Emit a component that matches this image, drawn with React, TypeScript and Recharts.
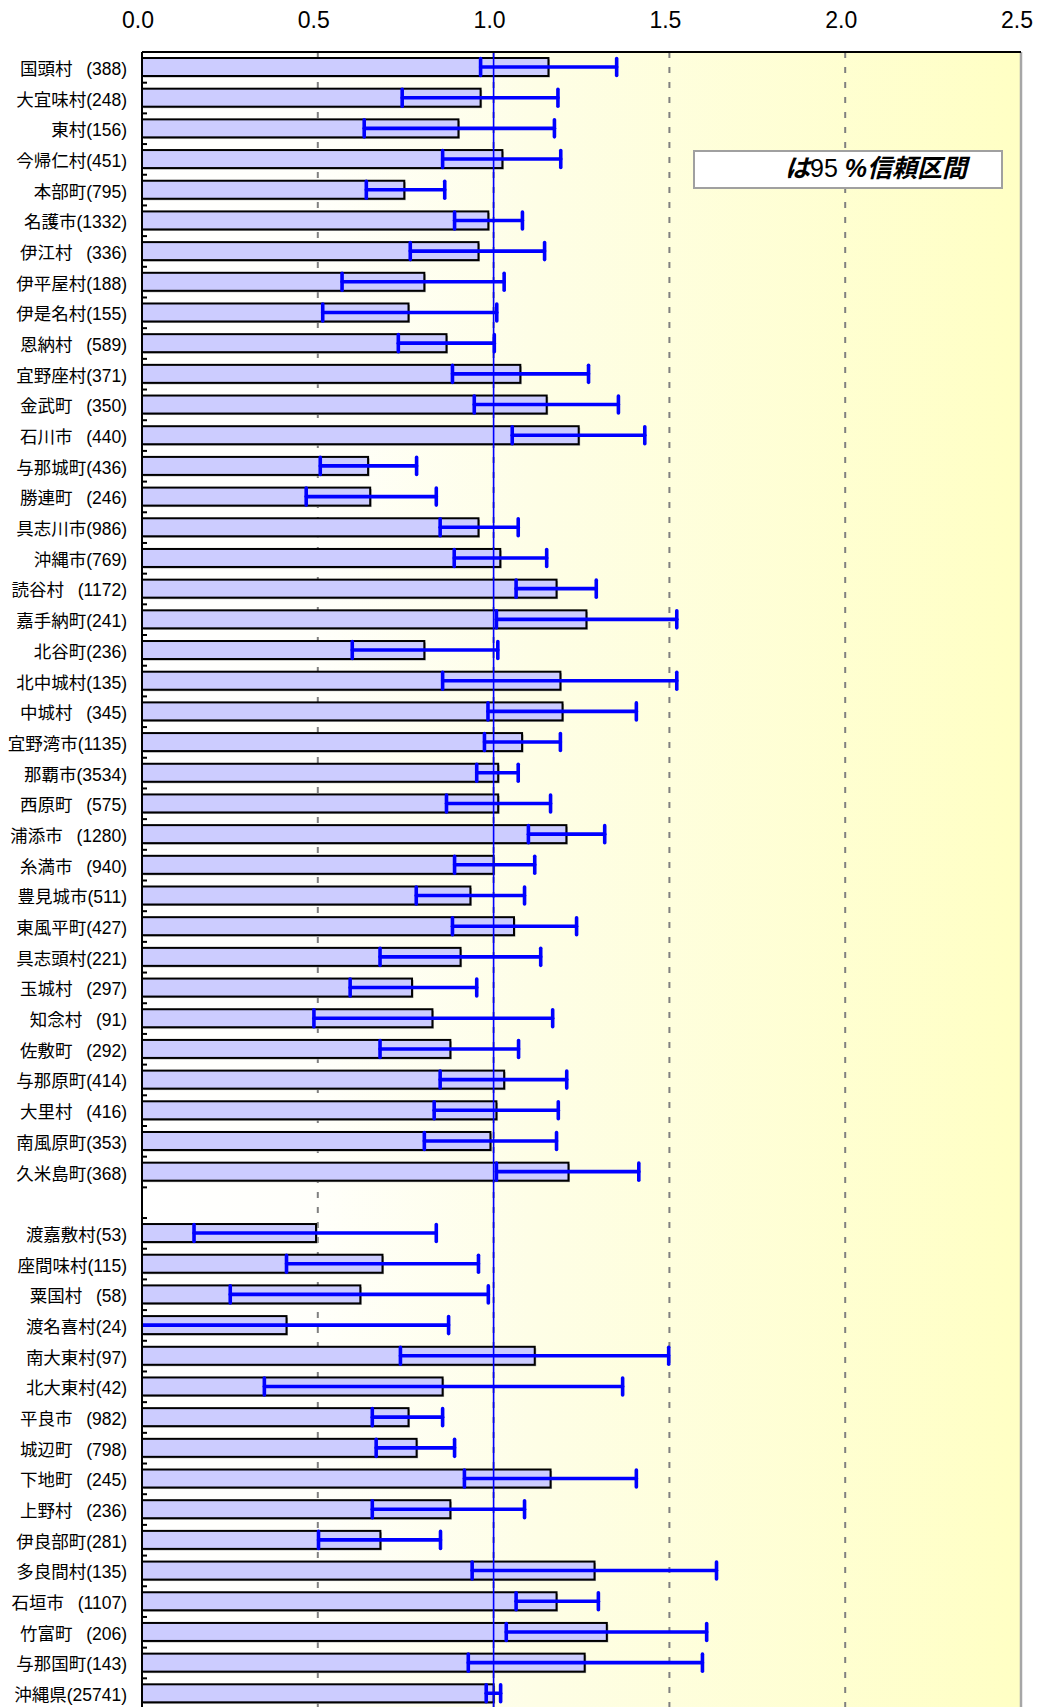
import React from 'react';
import { BarChart, Bar, XAxis, YAxis, CartesianGrid, ErrorBar, ReferenceLine } from 'recharts';

const SP = '\u2002 ';

const labels = [
  `国頭村${SP}(388)`, '大宜味村(248)', '東村(156)', '今帰仁村(451)', '本部町(795)',
  '名護市(1332)', `伊江村${SP}(336)`, '伊平屋村(188)', '伊是名村(155)', `恩納村${SP}(589)`,
  '宜野座村(371)', `金武町${SP}(350)`, `石川市${SP}(440)`, '与那城町(436)', `勝連町${SP}(246)`,
  '具志川市(986)', '沖縄市(769)', `読谷村${SP}(1172)`, '嘉手納町(241)', '北谷町(236)',
  '北中城村(135)', `中城村${SP}(345)`, '宜野湾市(1135)', '那覇市(3534)', `西原町${SP}(575)`,
  `浦添市${SP}(1280)`, `糸満市${SP}(940)`, '豊見城市(511)', '東風平町(427)', '具志頭村(221)',
  `玉城村${SP}(297)`, `知念村${SP}(91)`, `佐敷町${SP}(292)`, '与那原町(414)', `大里村${SP}(416)`,
  '南風原町(353)', '久米島町(368)', '',
  '渡嘉敷村(53)', '座間味村(115)', `粟国村${SP}(58)`, '渡名喜村(24)', '南大東村(97)',
  '北大東村(42)', `平良市${SP}(982)`, `城辺町${SP}(798)`, `下地町${SP}(245)`, `上野村${SP}(236)`,
  '伊良部町(281)', '多良間村(135)', `石垣市${SP}(1107)`, `竹富町${SP}(206)`, '与那国町(143)',
  '沖縄県(25741)',
];

const values: (number | null)[] = [
  1.156, 0.963, 0.900, 1.025, 0.746, 0.985, 0.957, 0.803, 0.758, 0.866,
  1.076, 1.151, 1.242, 0.643, 0.649, 0.957, 1.019, 1.179, 1.264, 0.803,
  1.190, 1.196, 1.081, 1.013, 1.013, 1.207, 1.000, 0.934, 1.058, 0.906,
  0.768, 0.826, 0.877, 1.030, 1.008, 0.991, 1.213, null,
  0.495, 0.684, 0.621, 0.411, 1.117, 0.855, 0.758, 0.781, 1.162, 0.877,
  0.678, 1.287, 1.179, 1.322, 1.259, 1.000,
];

const lows: (number | null)[] = [
  0.963, 0.740, 0.632, 0.855, 0.638, 0.889, 0.763, 0.569, 0.514, 0.729,
  0.883, 0.945, 1.053, 0.507, 0.467, 0.848, 0.888, 1.064, 1.008, 0.598,
  0.855, 0.984, 0.974, 0.952, 0.866, 1.099, 0.889, 0.780, 0.883, 0.677,
  0.592, 0.489, 0.677, 0.848, 0.831, 0.803, 1.008, null,
  0.148, 0.411, 0.251, -0.05, 0.735, 0.348, 0.655, 0.666, 0.917, 0.655,
  0.502, 0.939, 1.064, 1.036, 0.928, 0.979,
];

const highs: (number | null)[] = [
  1.350, 1.183, 1.173, 1.191, 0.861, 1.082, 1.145, 1.030, 1.009, 1.002,
  1.270, 1.355, 1.430, 0.781, 0.837, 1.070, 1.151, 1.292, 1.521, 1.012,
  1.521, 1.406, 1.190, 1.070, 1.162, 1.316, 1.117, 1.088, 1.236, 1.134,
  0.952, 1.168, 1.071, 1.208, 1.184, 1.179, 1.413, null,
  0.837, 0.957, 0.985, 0.872, 1.498, 1.367, 0.855, 0.889, 1.406, 1.088,
  0.849, 1.634, 1.298, 1.606, 1.594, 1.020,
];

const xTicks = [0, 0.5, 1.0, 1.5, 2.0, 2.5];

const data = labels.map((label, i) => {
  const v = values[i];
  const lo = lows[i];
  const hi = highs[i];
  if (v == null || lo == null || hi == null) return { label, value: null, err: null };
  return { label, value: v, err: [v - lo, hi - v] };
});

const FONT = '"Liberation Sans", Arial, "Noto Sans CJK JP", sans-serif';

const CHART_W = 1041;
const CHART_H = 1712;
const MARGIN = { top: 12, right: 20, bottom: 3, left: 0 };
const X_AXIS_H = 40;
const Y_AXIS_W = 142;
const PLOT_X = Y_AXIS_W;
const PLOT_Y = MARGIN.top + X_AXIS_H;
const PLOT_W = CHART_W - MARGIN.right - Y_AXIS_W;
const PLOT_H = CHART_H - MARGIN.top - MARGIN.bottom - X_AXIS_H;
const PITCH = PLOT_H / labels.length;
const Y_TICK_MARGIN = 15;

const YTick = (props: any) => {
  const { x, y, payload } = props;
  const axisX = x + Y_TICK_MARGIN;
  return (
    <g>
      <text x={x} y={y + 7.5} textAnchor="end" fontSize={17.5} fill="#000" fontFamily={FONT}>
        {payload.value}
      </text>
      <line x1={axisX} x2={axisX + 5} y1={y + PITCH / 2} y2={y + PITCH / 2} stroke="#000" strokeWidth={2} />
    </g>
  );
};

const XTick = (props: any) => {
  const { x, y, payload } = props;
  return (
    <text x={x - 4} y={y} textAnchor="middle" fontSize={23} fill="#000" fontFamily={FONT}>
      {Number(payload.value).toFixed(1)}
    </text>
  );
};

const BarShape = (p: any) => {
  const { x, y, width, height } = p;
  if (!width || !height || isNaN(width) || isNaN(height)) return null;
  return (
    <g>
      <rect x={x + 1.5} y={y + 1.5} width={width} height={height} fill="#a9a9a9" />
      <rect x={x} y={y} width={width} height={height} fill="#CCCCFF" stroke="#000" strokeWidth={2} />
    </g>
  );
};

export default function App() {
  return (
    <div style={{ position: 'absolute', left: 0, top: 0, width: 1041, height: 1707, overflow: 'hidden', background: '#fff', fontFamily: FONT }}>
      <style>{`.recharts-errorBar line { clip-path: url(#ebClip); }`}</style>
      <BarChart
        width={CHART_W}
        height={CHART_H}
        data={data}
        layout="vertical"
        margin={MARGIN}
        barSize={18}
      >
        <defs>
          <linearGradient id="bgGrad" x1="0" y1="0" x2="1" y2="0">
            <stop offset="0" stopColor="#FFFFFF" />
            <stop offset="0.2" stopColor="#FFFFFA" />
            <stop offset="0.45" stopColor="#FEFEE6" />
            <stop offset="1" stopColor="#FFFFC4" />
          </linearGradient>
          <clipPath id="ebClip" clipPathUnits="userSpaceOnUse">
            <rect x={PLOT_X} y={PLOT_Y} width={PLOT_W} height={PLOT_H} />
          </clipPath>
        </defs>
        <CartesianGrid
          horizontal={false}
          vertical={true}
          stroke="#808080"
          strokeWidth={2}
          strokeDasharray="6 9"
          fill="url(#bgGrad)"
          fillOpacity={1}
        />
        <XAxis
          type="number"
          orientation="top"
          domain={[0, 2.5]}
          ticks={xTicks}
          allowDataOverflow
          height={X_AXIS_H}
          axisLine={{ stroke: '#000', strokeWidth: 2 }}
          tickLine={false}
          tickSize={0}
          tickMargin={24}
          tick={<XTick />}
          interval={0}
        />
        <YAxis
          type="category"
          dataKey="label"
          width={Y_AXIS_W}
          axisLine={{ stroke: '#000', strokeWidth: 2 }}
          tickLine={false}
          tickSize={0}
          tickMargin={Y_TICK_MARGIN}
          tick={<YTick />}
          interval={0}
        />
        <ReferenceLine x={2.5} stroke="#A6A6A6" strokeWidth={2.5} />
        <Bar dataKey="value" isAnimationActive={false} shape={<BarShape />}>
          <ErrorBar
            dataKey="err"
            direction="x"
            width={8.5}
            strokeWidth={3.6}
            stroke="#0000FF"
            strokeLinecap="round"
            isAnimationActive={false}
          />
        </Bar>
        <ReferenceLine x={1} stroke="#0000FF" strokeWidth={1.6} />
      </BarChart>
      <svg width={1041} height={1707} style={{ position: 'absolute', left: 0, top: 0, pointerEvents: 'none' }}>
        <rect x={694} y={151} width={308} height={37} fill="#fff" stroke="#A0A0A0" strokeWidth={2} />
        <text x={967} y={177} textAnchor="end" fontSize={25} fontFamily={FONT} fill="#000">
          <tspan fontWeight="bold" fontStyle="italic">は</tspan>
          <tspan>95 </tspan>
          <tspan fontWeight="bold" fontStyle="italic">%信頼区間</tspan>
        </text>
      </svg>
    </div>
  );
}
